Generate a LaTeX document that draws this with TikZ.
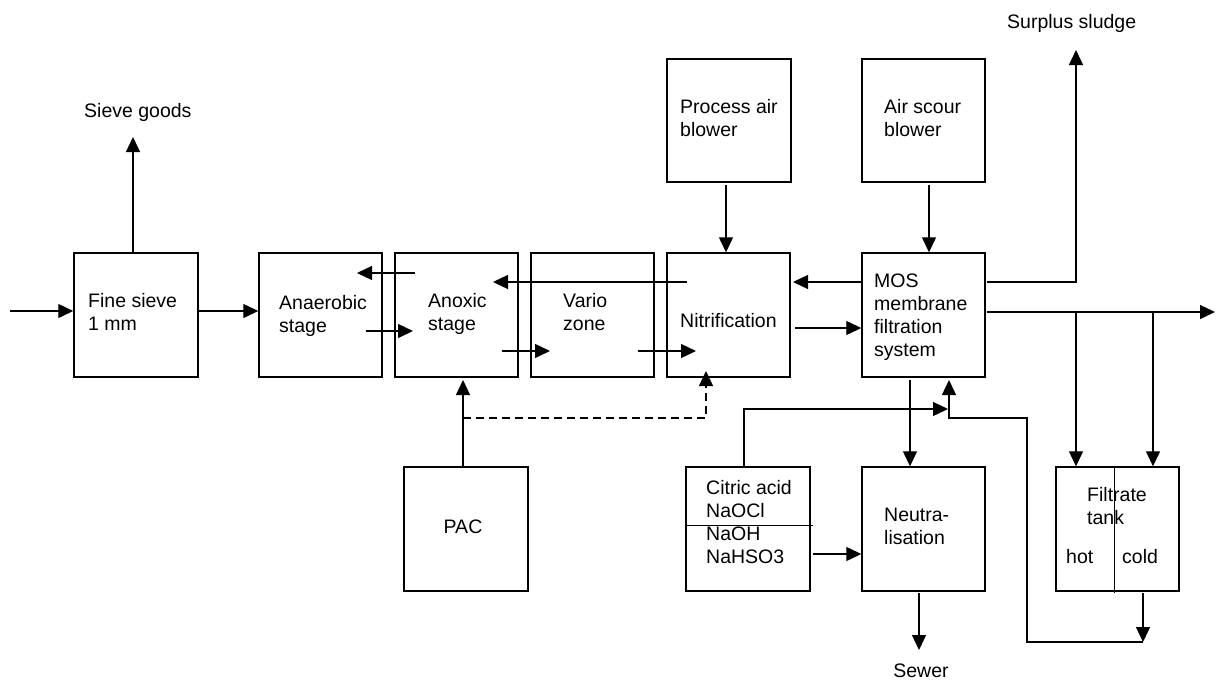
\documentclass[tikz,border=0pt]{standalone}
\usepackage{fontspec}
\setmainfont{Liberation Sans}
\usetikzlibrary{arrows.meta}
\begin{document}
\begin{tikzpicture}[x=1pt,y=-1pt,
  box/.style={draw, line width=1.4pt, minimum width=124pt, minimum height=124pt, inner sep=0pt},
  txt/.style={anchor=base west, align=left, inner sep=0pt, font=\fontsize{19.5}{22.7}\selectfont},
  ctxt/.style={anchor=base, align=center, inner sep=0pt, font=\fontsize{19.5}{22.7}\selectfont},
  arr/.style={line width=1.3pt, -{Triangle[length=15pt,width=14pt]}},
  thin/.style={line width=1pt}]
\useasboundingbox (0,0) rectangle (1218,680);
% boxes
\node[box] (sieve) at (136,315) {};
\node[box, minimum width=123pt] (anaer) at (320.5,315) {};
\node[box, minimum width=123pt] (anox) at (456.5,315) {};
\node[box, minimum width=123pt] (vario) at (592.5,315) {};
\node[box, minimum width=123pt] (nitri) at (728.5,315) {};
\node[box, minimum width=123pt] (mos) at (923.5,315) {};
\node[box, minimum height=123pt] (pab) at (729,120.5) {};
\node[box, minimum width=123pt, minimum height=123pt] (asb) at (923.5,120.5) {};
\node[box] (pac) at (466,529) {};
\node[box] (chem) at (748,529) {};
\node[box, minimum width=123pt] (neut) at (923.5,529) {};
\node[box, minimum width=123pt] (filt) at (1117.5,529) {};
% texts (base = baseline of last line)
\node[txt] (tsieve) at (88,330) {Fine sieve\\1 mm};
\node[txt] (tanaer) at (279,332) {Anaerobic\\stage};
\node[txt] (tanox) at (428,330) {Anoxic\\stage};
\node[txt] (tvario) at (563,330) {Vario\\zone};
\node[txt] (tnitri) at (680,327) {Nitrification};
\node[txt] (tmos) at (874,356) {MOS\\membrane\\filtration\\system};
\node[txt] (tpab) at (680,136) {Process air\\blower};
\node[txt] (tasb) at (884,136) {Air scour\\blower};
\node[ctxt] (tpac) at (463,533) {PAC};
\node[txt] (tchem) at (706,563) {Citric acid\\NaOCl\\NaOH\\NaHSO3};
\node[txt] (tneut) at (884,544) {Neutra-\\lisation};
\node[txt] (tfilt) at (1087,524) {Filtrate\\tank};
\node[txt] (thot) at (1066,563) {hot};
\node[txt] (tcold) at (1122,563) {cold};
\node[txt] (tsg) at (84,117) {Sieve goods};
\node[txt] (tss) at (1007,28) {Surplus sludge};
\node[ctxt] (tsewer) at (921,677) {Sewer};
% dividers
\draw[thin] (chem.west |- 0,525) -- (813,525);
\draw[thin] (1114,0 |- filt.north) -- (1114,593);
% coordinates
\coordinate (in) at (10,311);
\coordinate (sg) at (133,137);
\coordinate (ss) at (1076,50);
\coordinate (out) at (1215,312);
\coordinate (sewer) at (919,650);
% connectors
\draw[arr] (in) -- (in -| sieve.west);
\draw[arr] (133,0 |- sieve.north) -- (sg);
\draw[arr] (sieve.east |- in) -- (anaer.west |- in);
\draw[arr] (415,273) -- (357,273);
\draw[arr] (366,331) -- (413,331);
\draw[arr] (687,282) -- (493,282);
\draw[arr] (502,351) -- (550,351);
\draw[arr] (638,351) -- (696,351);
\draw[arr] (463,0 |- pac.north) -- (463,380);
\draw[arr, dash pattern=on 8pt off 5pt] (463,418) -- (706,418) -- (706,371);
\draw[arr] (726,185) -- (726,0 |- nitri.north);
\draw[arr] (929,185) -- (929,0 |- mos.north);
\draw[arr] (mos.west |- 0,282) -- (793,282);
\draw[arr] (795,328) -- (mos.west |- 0,328);
\draw[arr] (987,282) -- (1076,282) -- (ss);
\draw[arr] (987,312) -- (out);
\draw[arr] (1076,312) -- (1076,0 |- filt.north);
\draw[arr] (1153,312) -- (1153,0 |- filt.north);
\draw[arr] (910,380) -- (910,0 |- neut.north);
\draw[arr] (744,0 |- chem.north) -- (744,409) -- (948,409);
\draw[arr] (1143,593) -- (1143,642);
\draw[arr] (1143,642) -- (1027,642) -- (1027,418) -- (949,418) -- (949,380);
\draw[arr] (919,593) -- (sewer);
\draw[arr] (813,554) -- (neut.west |- 0,554);
\end{tikzpicture}
\end{document}
